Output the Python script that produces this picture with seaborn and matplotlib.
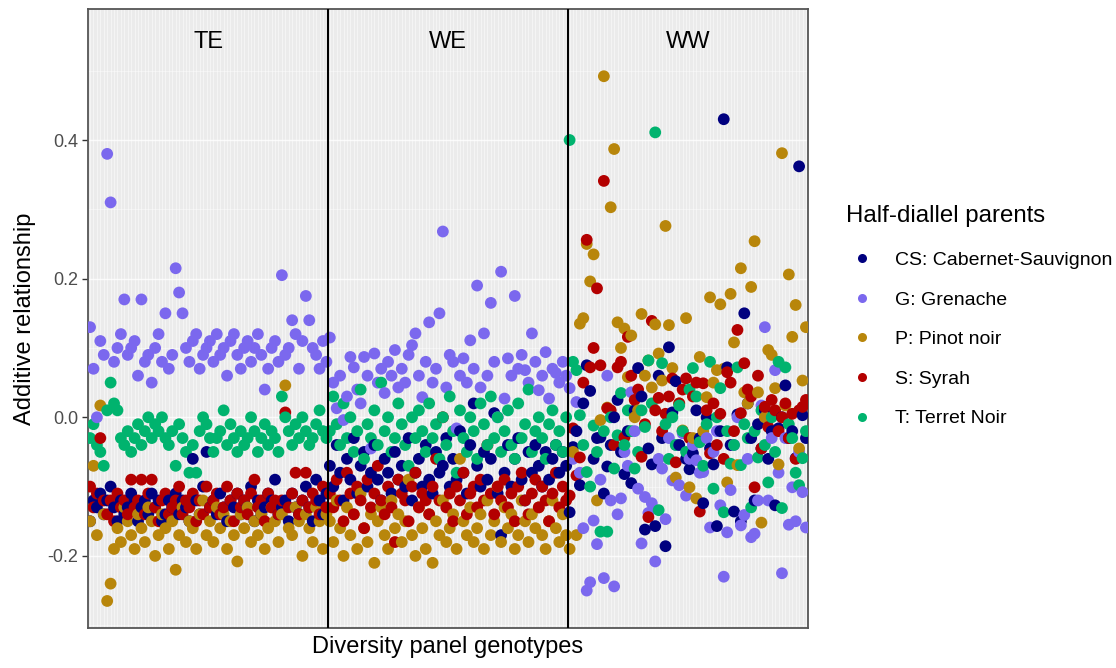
import numpy as np
import pandas as pd
import matplotlib
matplotlib.use("Agg")
import matplotlib.pyplot as plt
from matplotlib.lines import Line2D
import seaborn as sns

# ---------------- data ----------------
groups = ["TE", "WE", "WW"]
parents = ["CS: Cabernet-Sauvignon", "G: Grenache", "P: Pinot noir", "S: Syrah", "T: Terret Noir"]
colors = ["#00007F", "#7B68EE", "#B8860B", "#B30000", "#00B36E"]
y_ticks = [-0.2, 0.0, 0.2, 0.4]
y_tick_labels = ["-0.2", "0.0", "0.2", "0.4"]

te_cs = [-0.15, -0.12, -0.13, -0.11, -0.14, -0.12, -0.10, -0.13, -0.15, -0.12, -0.14, -0.13, -0.11, -0.12, -0.15, -0.13, -0.12, -0.14, -0.11, -0.13,
         -0.12, -0.15, -0.14, -0.12, -0.13, -0.11, -0.14, -0.12, -0.13, -0.15, -0.06, -0.12, -0.14, -0.10, -0.05, -0.13, -0.12, -0.14, -0.11, -0.13,
         -0.15, -0.12, -0.13, -0.11, -0.14, -0.12, -0.13, -0.10, -0.15, -0.12, -0.14, -0.13, -0.11, -0.12, -0.09, -0.14, -0.13, -0.12, -0.15, -0.11,
         -0.13, -0.14, -0.12, -0.10, -0.13, -0.15, -0.09, -0.12, -0.14, -0.11]
te_g = [0.13, 0.07, 0.00, 0.11, 0.09, 0.38, 0.31, 0.08, 0.10, 0.12, 0.17, 0.09, 0.10, 0.11, 0.06, 0.17, 0.08, 0.09, 0.05, 0.10,
        0.12, 0.08, 0.15, 0.07, 0.09, 0.215, 0.18, 0.15, 0.10, 0.08, 0.11, 0.12, 0.07, 0.09, 0.10, 0.11, 0.08, 0.12, 0.09, 0.10,
        0.06, 0.11, 0.12, 0.09, 0.07, 0.10, 0.11, 0.08, 0.10, 0.12, 0.09, 0.04, 0.07, 0.10, 0.11, 0.08, 0.205, 0.09, 0.10, 0.14,
        0.12, 0.07, 0.11, 0.175, 0.14, 0.10, 0.09, 0.07, 0.11, 0.08]
te_p = [-0.15, -0.07, -0.17, 0.017, -0.14, -0.265, -0.24, -0.19, -0.16, -0.18, -0.13, -0.15, -0.17, -0.19, -0.14, -0.16, -0.18, -0.13, -0.15, -0.20,
        -0.17, -0.14, -0.16, -0.19, -0.15, -0.22, -0.17, -0.13, -0.18, -0.15, -0.16, -0.19, -0.14, -0.12, -0.17, -0.15, -0.18, -0.13, -0.16, -0.14,
        -0.19, -0.15, -0.17, -0.208, -0.14, -0.16, -0.13, -0.18, -0.15, -0.17, -0.14, -0.19, -0.16, -0.13, -0.15, -0.18, -0.14, 0.046, -0.16, -0.17,
        -0.13, -0.15, -0.20, -0.14, -0.16, -0.18, -0.13, -0.15, -0.19, -0.14]
te_s = [-0.10, -0.13, -0.11, -0.03, -0.12, -0.14, -0.12, -0.15, -0.11, -0.13, -0.12, -0.14, -0.09, -0.13, -0.12, -0.09, -0.14, -0.11, -0.09, -0.13,
        -0.15, -0.12, -0.11, -0.14, -0.13, -0.12, -0.10, -0.14, -0.12, -0.13, -0.11, -0.15, -0.12, -0.14, -0.10, -0.13, -0.12, -0.11, -0.14, -0.13,
        -0.10, -0.12, -0.15, -0.11, -0.13, -0.12, -0.14, -0.11, -0.09, -0.13, -0.12, -0.15, -0.11, -0.13, -0.12, -0.14, -0.12, 0.007, -0.13, -0.11,
        -0.08, -0.14, -0.12, -0.08, -0.13, -0.11, -0.12, -0.14, -0.10, -0.13]
te_t = [-0.03, -0.01, -0.04, -0.05, -0.07, 0.01, 0.05, 0.02, 0.01, -0.03, -0.04, -0.02, -0.05, -0.03, -0.01, -0.04, -0.02, 0.00, -0.03, -0.01,
        -0.02, 0.00, -0.03, -0.04, -0.02, -0.07, -0.01, -0.03, -0.05, -0.08, -0.04, -0.08, -0.02, 0.00, -0.01, -0.03, -0.05, -0.03, -0.02, 0.01,
        -0.04, -0.01, -0.03, -0.05, -0.02, -0.04, -0.03, 0.00, -0.02, -0.05, -0.03, -0.01, -0.04, -0.02, -0.03, -0.05, 0.03, 0.00, -0.02, -0.04,
        -0.01, -0.03, 0.00, -0.02, -0.04, -0.03, -0.01, 0.01, -0.02, -0.03]

we_cs = [-0.07, -0.10, -0.04, -0.08, -0.12, -0.06, -0.09, -0.03, -0.11, -0.07, -0.05, -0.10, -0.08, -0.04, -0.09, -0.12, -0.06, -0.08, -0.11, -0.05,
         -0.09, -0.07, -0.10, -0.03, -0.12, -0.08, -0.06, -0.10, -0.04, -0.09, -0.11, -0.05, -0.08, -0.07, -0.03, -0.10, -0.06, -0.09, -0.02, -0.08,
         -0.11, -0.04, 0.02, -0.07, -0.10, -0.05, -0.09, -0.06, 0.006, -0.11, -0.17, -0.08, -0.04, -0.10, -0.06, -0.03, -0.09, -0.12, -0.05, -0.08,
         -0.04, -0.07, -0.10, -0.05, -0.09, -0.06, -0.04, -0.08, -0.05, -0.07]
we_g = [0.115, 0.05, 0.013, 0.06, -0.004, 0.03, 0.087, 0.072, 0.04, 0.02, 0.087, 0.06, -0.045, 0.092, 0.05, 0.07, 0.035, 0.08, 0.06, 0.097,
        0.043, 0.07, 0.05, 0.09, 0.104, 0.121, 0.06, 0.029, 0.08, 0.137, 0.05, 0.07, 0.15, 0.268, 0.043, 0.09, 0.08, -0.016, 0.06, 0.085,
        0.05, 0.111, 0.07, 0.19, 0.043, 0.121, 0.06, 0.165, 0.08, 0.00, 0.21, 0.027, 0.085, 0.06, 0.175, 0.07, 0.09, 0.068, 0.05, 0.121,
        0.08, 0.039, 0.06, 0.094, 0.027, 0.07, 0.064, 0.05, 0.08, 0.06]
we_p = [-0.15, -0.18, -0.12, -0.16, -0.20, -0.13, -0.17, -0.14, -0.19, -0.11, -0.16, -0.18, -0.14, -0.21, -0.15, -0.13, -0.17, -0.19, -0.12, -0.16,
        -0.14, -0.18, -0.15, -0.09, -0.17, -0.20, -0.13, -0.16, -0.19, -0.14, -0.21, -0.15, -0.17, -0.12, -0.18, -0.16, -0.14, -0.19, -0.06, -0.15,
        -0.17, -0.13, -0.18, -0.16, -0.14, -0.19, -0.12, -0.17, -0.15, -0.10, -0.18, -0.13, -0.16, -0.14, -0.19, -0.17, -0.12, -0.15, -0.18, -0.14,
        -0.16, -0.13, -0.17, -0.19, -0.15, -0.12, -0.16, -0.18, -0.14, -0.17]
we_s = [-0.11, -0.13, -0.09, -0.12, -0.15, -0.08, -0.11, -0.14, -0.10, -0.12, -0.16, -0.09, -0.13, -0.11, -0.07, -0.12, -0.14, -0.10, -0.13, -0.18,
        -0.09, -0.11, -0.12, -0.15, -0.10, -0.08, -0.13, -0.11, -0.12, -0.14, -0.10, -0.06, -0.12, 0.00, -0.13, -0.11, -0.15, -0.10, -0.12, -0.08,
        -0.14, -0.11, -0.10, -0.13, -0.09, -0.12, -0.04, -0.11, -0.14, -0.10, -0.12, -0.09, -0.13, -0.11, -0.15, -0.10, -0.08, -0.12, -0.14, -0.11,
        -0.09, -0.13, -0.10, -0.12, -0.15, -0.11, -0.08, -0.13, -0.10, -0.12]
we_t = [-0.02, 0.03, -0.01, -0.04, 0.02, -0.03, 0.00, -0.05, -0.02, 0.04, -0.06, -0.01, -0.03, 0.01, -0.04, 0.05, -0.02, 0.00, -0.05, -0.03,
        0.02, -0.01, -0.04, -0.07, 0.00, -0.03, 0.01, -0.02, -0.05, 0.02, -0.03, -0.01, -0.06, 0.00, -0.04, 0.03, -0.02, -0.08, 0.01, -0.03,
        -0.05, 0.00, -0.02, -0.06, 0.02, -0.01, -0.04, 0.03, -0.03, 0.00, -0.05, -0.02, 0.01, -0.04, -0.06, 0.02, -0.03, -0.01, 0.04, -0.05,
        -0.02, 0.00, -0.03, -0.06, -0.01, 0.01, -0.04, -0.02, -0.05, 0.00]

ww_cs = [-0.137, -0.043, -0.02, -0.098, 0.02, 0.075, 0.038, -0.06, -0.03, -0.029, -0.11, -0.071, -0.04, 0.00, 0.025, -0.05, -0.082, -0.02, -0.095, 0.01,
         0.071, 0.03, -0.162, -0.045, -0.068, -0.157, 0.06, -0.03, -0.186, 0.101, 0.007, 0.052, -0.04, -0.02, -0.06, -0.075, -0.052, 0.01, -0.03, -0.124,
         0.00, -0.045, -0.068, -0.157, -0.02, 0.43, 0.072, -0.04, -0.136, 0.004, -0.15, 0.15, 0.02, -0.03, -0.12, -0.01, -0.045, 0.01, -0.06, -0.02,
         -0.127, -0.016, 0.00, 0.046, -0.03, -0.02, -0.059, 0.362, 0.003, -0.03]
ww_g = [0.042, -0.06, 0.022, -0.08, -0.16, -0.25, -0.238, -0.149, -0.183, -0.09, -0.232, 0.06, -0.12, -0.244, -0.14, -0.117, -0.05, -0.07, 0.036, -0.02,
        -0.103, -0.182, -0.115, -0.138, -0.124, -0.208, -0.06, -0.074, -0.147, -0.03, -0.091, -0.04, -0.098, -0.023, -0.113, -0.06, -0.04, -0.062, -0.08, -0.079,
        -0.03, -0.159, -0.05, -0.02, -0.127, -0.23, -0.166, -0.105, -0.04, 0.00, -0.156, -0.141, -0.06, -0.173, -0.168, -0.12, 0.017, 0.13, -0.12, -0.03,
        0.068, -0.08, -0.225, -0.03, -0.155, -0.101, -0.15, -0.05, -0.108, -0.159]
ww_p = [-0.19, -0.05, -0.17, 0.135, 0.143, 0.25, 0.196, 0.235, -0.12, -0.004, 0.492, 0.014, 0.303, 0.387, 0.137, 0.10, 0.128, 0.058, 0.118, 0.00,
        0.01, 0.149, 0.06, 0.082, 0.043, 0.134, 0.092, 0.053, 0.276, 0.133, 0.071, -0.087, 0.02, -0.019, 0.143, -0.101, -0.03, -0.117, 0.087, -0.02,
        0.029, 0.173, 0.05, 0.068, 0.163, 0.07, -0.094, 0.178, 0.108, -0.069, 0.215, 0.036, 0.02, 0.188, 0.254, 0.036, -0.152, 0.00, 0.097, 0.09,
        0.042, -0.068, 0.381, 0.017, 0.206, 0.116, 0.162, -0.045, 0.053, 0.13]
ww_s = [-0.113, -0.016, -0.084, -0.058, 0.05, 0.256, 0.072, 0.10, 0.186, 0.075, 0.341, 0.013, 0.01, -0.04, 0.072, 0.08, -0.029, 0.116, 0.06, 0.025,
        0.04, -0.057, -0.01, -0.144, 0.139, 0.01, 0.028, -0.02, 0.005, 0.03, 0.056, -0.065, 0.02, 0.04, 0.056, -0.03, 0.03, 0.05, -0.136, 0.049,
        0.01, -0.052, 0.02, -0.04, 0.005, -0.06, 0.065, 0.05, -0.02, 0.126, 0.006, 0.078, 0.04, 0.03, -0.101, 0.06, -0.045, 0.015, -0.014, 0.025,
        0.01, -0.02, 0.00, 0.02, -0.03, 0.005, -0.06, 0.01, 0.015, 0.025]
ww_t = [0.40, 0.08, 0.068, 0.003, -0.04, -0.079, -0.10, -0.012, -0.05, -0.165, -0.02, -0.165, 0.00, -0.074, -0.026, 0.035, -0.04, 0.01, -0.02, -0.074,
        -0.05, 0.01, -0.014, 0.082, 0.02, 0.411, -0.134, 0.078, -0.01, -0.06, 0.00, -0.04, 0.017, -0.02, -0.05, 0.04, 0.071, 0.03, -0.036, -0.07,
        -0.01, 0.08, -0.103, 0.00, 0.042, -0.137, -0.02, -0.067, -0.04, 0.072, -0.069, -0.01, -0.03, -0.13, -0.02, -0.058, 0.01, -0.04, -0.094, 0.00,
        -0.05, 0.08, -0.131, 0.072, -0.01, -0.03, -0.08, -0.098, -0.059, -0.02]

series = {
    "TE": [te_cs, te_g, te_p, te_s, te_t],
    "WE": [we_cs, we_g, we_p, we_s, we_t],
    "WW": [ww_cs, ww_g, ww_p, ww_s, ww_t],
}

# long table, genotype-major so colours interleave like the original
rows = []
gid = 0
for g in groups:
    vals = series[g]
    n = len(vals[0])
    for i in range(n):
        for p, v in zip(parents, vals):
            rows.append((gid, g, p, v[i]))
        gid += 1
df = pd.DataFrame(rows, columns=["genotype", "group", "parent", "value"])
n_geno = gid
bounds = np.cumsum([len(series[g][0]) for g in groups])

# ---------------- figure ----------------
plt.rcParams["font.family"] = ["Liberation Sans", "DejaVu Sans"]
fig = plt.figure(figsize=(11.16, 6.68), dpi=100)
ax = fig.add_axes([88 / 1116, 40 / 668, 720 / 1116, 619 / 668])
ax.set_facecolor("#EBEBEB")

palette = dict(zip(parents, colors))
sns.scatterplot(data=df, x="genotype", y="value", hue="parent", palette=palette,
                s=72, linewidth=0, edgecolor="none", legend=False, ax=ax, zorder=3)

ax.set_xlim(-0.6, n_geno - 0.4)
ax.set_ylim(-0.304, 0.589)

# grid
ax.set_xticks([])
ax.set_xticks(np.arange(n_geno), minor=True)
ax.grid(which="minor", axis="x", color="#F6F6F6", lw=0.6, zorder=0)
ax.set_yticks(y_ticks)
ax.set_yticklabels(y_tick_labels)
ax.set_yticks([-0.3, -0.1, 0.1, 0.3, 0.5], minor=True)
ax.grid(which="major", axis="y", color="white", lw=1.0, alpha=0.8, zorder=0)
ax.grid(which="minor", axis="y", color="white", lw=0.5, alpha=0.6, zorder=0)
ax.set_axisbelow(True)
ax.tick_params(axis="x", which="both", length=0, labelbottom=False)
ax.tick_params(axis="y", which="major", length=4, width=1, color="#333333",
               labelsize=13, labelcolor="#4D4D4D", pad=3)
ax.tick_params(axis="y", which="minor", length=0)

for sp in ax.spines.values():
    sp.set_color("#555555")
    sp.set_linewidth(1.3)

# group dividers and labels
for b in bounds[:-1]:
    ax.axvline(b - 0.5, color="black", lw=1.5, zorder=4)
starts = np.concatenate([[0], bounds[:-1]])
for g, s0, b in zip(groups, starts, bounds):
    ax.text((s0 + b - 1) / 2, 0.542, g, ha="center", va="center", fontsize=17, color="black")

ax.set_xlabel("Diversity panel genotypes", fontsize=17, labelpad=6)
ax.set_ylabel("Additive relationship", fontsize=17, labelpad=8)

# legend
handles = [Line2D([0], [0], marker="o", linestyle="none", markersize=6.5,
                  markerfacecolor=c, markeredgecolor="none") for c in colors]
leg = fig.legend(handles, parents, title="Half-diallel parents", loc="upper left",
                 bbox_to_anchor=(846 / 1116, 1 - 205 / 668), bbox_transform=fig.transFigure,
                 frameon=False, fontsize=14.0, title_fontsize=17.3, handlelength=1.63,
                 handletextpad=0.87, labelspacing=1.13, borderpad=0, borderaxespad=0)
leg._legend_box.align = "left"
leg._legend_box.sep = 17.6
leg.get_title().set_color("black")

fig.savefig("out.png", dpi=100)
